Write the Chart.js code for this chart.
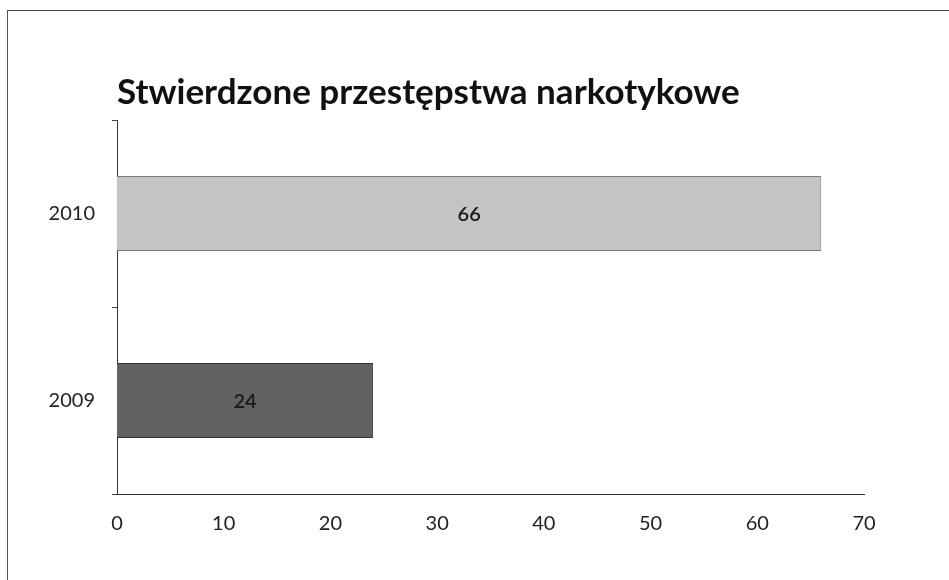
<!DOCTYPE html>
<html>
<head>
<meta charset="utf-8">
<script src="https://cdn.jsdelivr.net/npm/chart.js@4"></script>
<style>
  html, body { margin: 0; padding: 0; background: #fff; }
  #wrap { position: relative; width: 949px; height: 580px; overflow: hidden; }
  #frame { position: absolute; left: 7px; top: 10px; width: 960px; height: 600px;
           border-left: 1px solid #555; border-top: 1px solid #444; pointer-events: none; }
  canvas { position: absolute; left: 0; top: 0; }
</style>
</head>
<body>
<div id="wrap">
  <canvas id="c" width="949" height="580"></canvas>
  <div id="frame"></div>
</div>
<script>
const titleText = "Stwierdzone przestępstwa narkotykowe";
const categories = ["2010", "2009"];
const values = [66, 24];
const barColors = ["#c4c4c4", "#626262"];
const xMin = 0;
const xMax = 70;
const xStep = 10;

const valueLabels = {
  id: 'valueLabels',
  afterDatasetsDraw(chart) {
    const ctx = chart.ctx;
    const meta = chart.getDatasetMeta(0);
    ctx.save();
    ctx.font = '600 20px Lato, "Open Sans", sans-serif';
    ctx.fillStyle = '#1a1a1a';
    ctx.textAlign = 'center';
    ctx.textBaseline = 'middle';
    meta.data.forEach((bar, i) => {
      const p = bar.getProps(['x', 'y', 'base'], true);
      ctx.fillText(String(values[i]), (p.x + p.base) / 2, p.y + 1);
    });
    ctx.restore();
  }
};

new Chart(document.getElementById('c'), {
  type: 'bar',
  data: {
    labels: categories,
    datasets: [{
      data: values,
      backgroundColor: barColors,
      borderColor: ["#7a7a7a", "#333333"],
      borderWidth: 1,
      categoryPercentage: 1.0,
      barPercentage: 0.4
    }]
  },
  options: {
    indexAxis: 'y',
    responsive: false,
    animation: false,
    layout: { padding: { left: 0, right: 85, top: 0, bottom: 0 } },
    plugins: {
      legend: { display: false },
      tooltip: { enabled: false },
      title: {
        display: true,
        text: titleText,
        align: 'start',
        fullSize: false,
        color: '#111',
        font: { family: 'Lato, "Open Sans", sans-serif', size: 35, weight: 'bold' },
        padding: { top: 72, bottom: 6 }
      }
    },
    scales: {
      x: {
        min: xMin,
        max: xMax,
        ticks: {
          stepSize: xStep,
          color: '#222',
          padding: 18,
          font: { family: 'Lato, "Open Sans", sans-serif', size: 20 }
        },
        grid: { display: false, drawTicks: false },
        border: { display: true, color: '#333', width: 1 },
        afterFit(scale) { scale.height = 86; }
      },
      y: {
        ticks: {
          color: '#222',
          padding: 17,
          font: { family: 'Lato, "Open Sans", sans-serif', size: 20 }
        },
        grid: { display: true, drawOnChartArea: false, drawTicks: true, tickLength: 5, color: '#444', offset: true },
        border: { display: true, color: '#333', width: 1 },
        afterFit(scale) { scale.width = 117; }
      }
    }
  },
  plugins: [valueLabels]
});
</script>
</body>
</html>
